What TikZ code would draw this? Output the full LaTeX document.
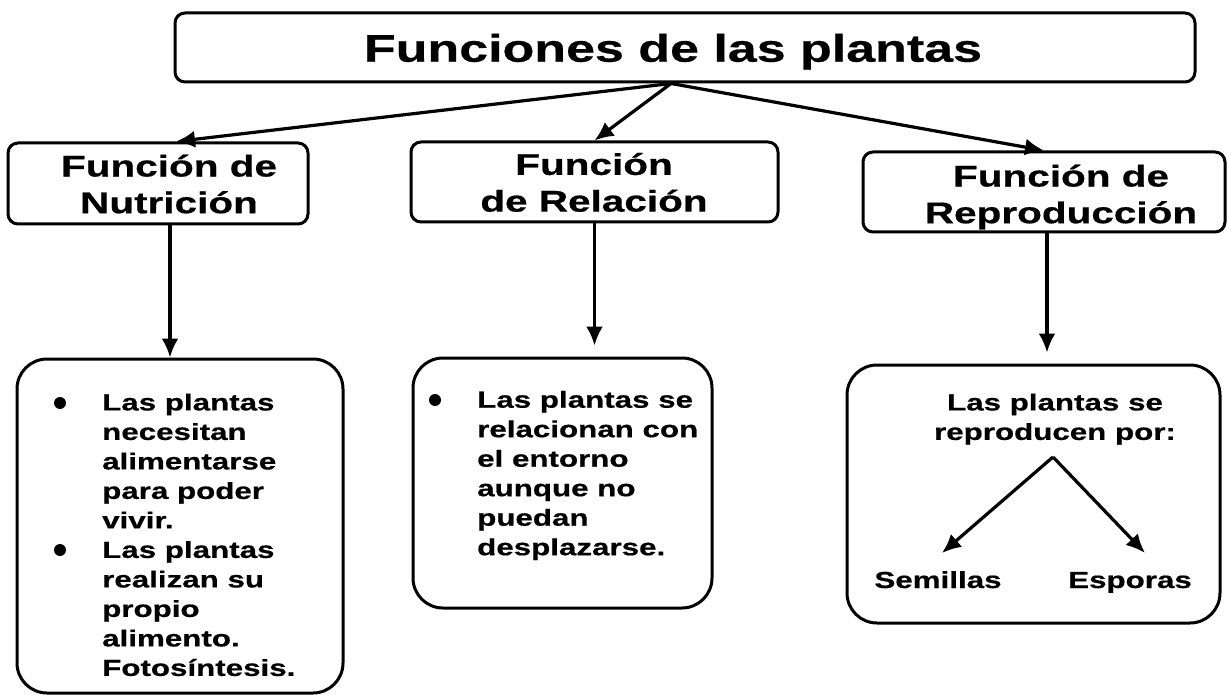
\documentclass[tikz,border=0pt]{standalone}
\usepackage{fontspec}
\setmainfont{Liberation Sans}[FakeStretch=1.35, BoldFeatures={FakeBold=0.6}]
\usetikzlibrary{arrows.meta}
\begin{document}
\begin{tikzpicture}[x=1pt,y=-1pt,
  box/.style={draw, line width=3pt, rounded corners=10pt, inner sep=0pt},
  bigbox/.style={draw, line width=3pt, rounded corners=30pt, inner sep=0pt},
  arr/.style={line width=3.2pt, -{Latex[length=19pt,width=17pt]}},
  ftxt/.style={font=\fontsize{30}{36.7}\selectfont\bfseries, align=center, inner sep=0pt},
  btxt/.style={font=\fontsize{23.2}{29.5}\selectfont\bfseries, inner sep=0pt},
  dot/.style={circle, fill, inner sep=0pt, minimum size=12pt}]
\useasboundingbox (0,0) rectangle (1229,695);
\fill[white] (0,0) rectangle (1229,695);
% top box
\node[box, minimum width=1020pt, minimum height=69pt] (title) at (685,47.5) {};
\node[anchor=base, inner sep=0pt, font=\fontsize{38.5}{46}\selectfont\bfseries] (titletext) at (673,61.7) {Funciones de las plantas};
% function boxes
\node[box, minimum width=300pt, minimum height=81pt] (nutr) at (158,183.5) {};
\node[ftxt] (nutrtext) at (169,184) {Función de\\Nutrición};
\node[box, minimum width=367pt, minimum height=80pt] (rel) at (594.5,182) {};
\node[ftxt] (reltext) at (594,182.4) {Función\\de Relación};
\node[box, minimum width=362pt, minimum height=80pt] (rep) at (1044,192) {};
\node[ftxt] (reptext) at (1061,197) {Función de\\Reproducción};
% bottom boxes
\node[bigbox, minimum width=326pt, minimum height=334pt] (b1) at (180,526) {};
\node[bigbox, minimum width=299pt, minimum height=250pt] (b2) at (562.5,483) {};
\node[bigbox, minimum width=373pt, minimum height=258pt] (b3) at (1033.5,494) {};
% arrows
\draw[arr] ([xshift=-14pt]title.south) -- ([xshift=18pt]nutr.north);
\draw[arr] ([xshift=-14pt]title.south) -- (rel.north);
\draw[arr] ([xshift=-14pt]title.south) -- (rep.north);
\draw[arr] ([xshift=12pt]nutr.south) -- ([xshift=12pt]nutr.south |- b1.north);
\draw[arr, shorten >=11pt] (rel.south) -- (rel.south |- b2.north);
\draw[arr, shorten >=11pt] ([xshift=3pt]rep.south) -- ([xshift=3pt]rep.south |- b3.north);
% left box text
\node[dot] (d1) at (60,403) {};
\node[dot] (d2) at (60,550) {};
\node[btxt, align=left, anchor=north west] (t1) at (102,393.4) {Las plantas\\necesitan\\alimentarse\\para poder\\vivir.\\Las plantas\\realizan su\\propio\\alimento.\\Fotosíntesis.};
% middle box text
\node[dot] (d3) at (435,400) {};
\node[btxt, align=left, anchor=north west] (t2) at (477,390.7) {Las plantas se\\relacionan con\\el entorno\\aunque no\\puedan\\desplazarse.};
% right box text
\node[btxt, align=center, anchor=north] (t3) at (1055,393.4) {Las plantas se\\reproducen por:};
\node[btxt, anchor=base] (sem) at (938,588) {Semillas};
\node[btxt, anchor=base] (esp) at (1130,588) {Esporas};
\coordinate (split) at (1053,457);
\coordinate (semtip) at (942,553);
\coordinate (esptip) at (1145,553);
\draw[arr] (split) -- (semtip);
\draw[arr] (split) -- (esptip);
\end{tikzpicture}
\end{document}
